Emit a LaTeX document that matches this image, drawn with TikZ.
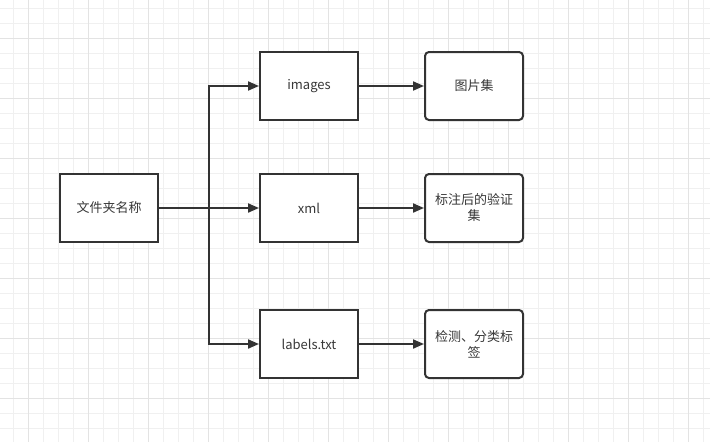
\documentclass[tikz,border=0pt]{standalone}
\usepackage{fontspec}
\setmainfont{Noto Sans CJK SC}
\usetikzlibrary{positioning, arrows.meta, calc}

\begin{document}
\begin{tikzpicture}[
  x=1pt, y=-1pt,
  >={Triangle[length=11pt, width=9pt]},
  every node/.style={font=\fontsize{13}{16}\selectfont, text=black!78},
  box/.style    = {draw=black!80, line width=2pt, fill=white, align=center,
                   minimum width=98pt, minimum height=68pt, inner sep=2pt},
  folder/.style = {box},
  res/.style    = {box, rounded corners=4pt},
  arr/.style    = {->, line width=2pt, draw=black!80},
  minor/.style  = {draw=black!6, line width=1pt},
  major/.style  = {draw=black!11, line width=1pt},
]
  \useasboundingbox (0,0) rectangle (710,442);
  \fill[white] (0,0) rectangle (710,442);
  % background grid
  \foreach \x in {13.3, 28.3, ..., 710}
     \draw[minor] (\x,0) -- (\x,442);
  \foreach \y in {8.3, 23.3, ..., 442}
     \draw[minor] (0,\y) -- (710,\y);
  \foreach \x in {28.3, 88.3, ..., 710}
     \draw[major] (\x,0) -- (\x,442);
  \foreach \y in {38.3, 98.3, ..., 442}
     \draw[major] (0,\y) -- (710,\y);

  \node[folder] (src) at (109,208) {文件夹名称};
  \node[folder, right=100pt of src] (xml) {xml};
  \node[folder, above=52pt of xml]  (img) {images};
  \node[folder, below=66pt of xml]  (lbl) {labels.txt};
  \node[res, right=65pt of img] (imgset) {图片集};
  \node[res, right=65pt of xml] (valset) {标注后的验证\\集};
  \node[res, right=65pt of lbl] (clsset) {检测、分类标\\签};

  \coordinate[right=50pt of src] (jn);
  \draw[arr] (src) -- (xml);
  \draw[arr] (jn) |- (img);
  \draw[arr] (jn) |- (lbl);
  \foreach \a/\b in {img/imgset, xml/valset, lbl/clsset}
     \draw[arr] (\a) -- (\b);
\end{tikzpicture}
\end{document}
